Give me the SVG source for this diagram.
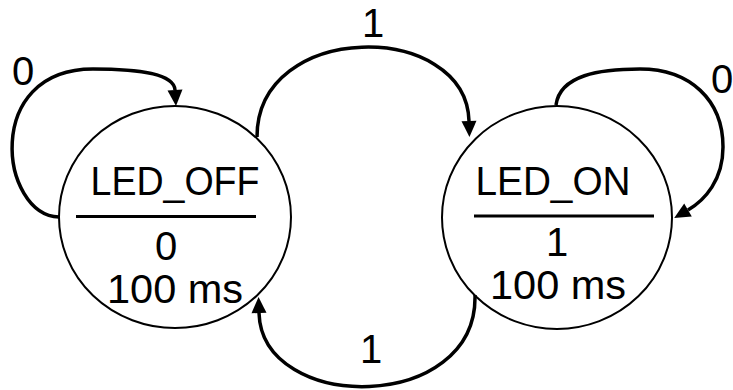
<svg xmlns="http://www.w3.org/2000/svg" width="733" height="390" viewBox="0 0 733 390">
<style>
.state{fill:#fff;stroke:#000;stroke-width:2}
.div{stroke:#000;stroke-width:3}
.t{font-family:"Liberation Sans",Arial,sans-serif;font-size:40px;fill:#000;text-anchor:middle}
.edge{fill:none;stroke:#000;stroke-width:3.5;marker-end:url(#arr)}
</style>
<defs>
<marker id="arr" markerUnits="userSpaceOnUse" markerWidth="17" markerHeight="16" refX="0" refY="7.5" orient="auto" overflow="visible">
<path d="M0,0 L16,7.5 L0,15 z" fill="#000"/>
</marker>
</defs>
<g id="node-led-off">
<ellipse class="state" cx="175" cy="217" rx="116" ry="111"/>
<text class="t" x="175" y="195" textLength="169" lengthAdjust="spacingAndGlyphs">LED_OFF</text>
<line class="div" x1="76" y1="216.5" x2="256" y2="216.5"/>
<text class="t" x="166" y="260">0</text>
<text class="t" x="175" y="303" textLength="136" lengthAdjust="spacingAndGlyphs">100 ms</text>
</g>
<g id="node-led-on">
<ellipse class="state" cx="557" cy="217.5" rx="115" ry="111.5"/>
<text class="t" x="553" y="195" textLength="155" lengthAdjust="spacingAndGlyphs">LED_ON</text>
<line class="div" x1="474" y1="216" x2="654" y2="216"/>
<text class="t" x="557" y="256">1</text>
<text class="t" x="558" y="299" textLength="136" lengthAdjust="spacingAndGlyphs">100 ms</text>
</g>
<g id="connectors">
<path class="edge" d="M257,137 C257,20 466,20 469,121"/>
<path class="edge" d="M475,295 C478,414 262,414 259,313"/>
<path class="edge" d="M59,217 C0,215 -18,69 93,69 C140,69 174,74 175,90"/>
<path class="edge" d="M556,105 C560,75 600,69 640,69 C690,69 723,100 723,147 C723,180 705,200 688,210"/>
<text class="t" x="373" y="37">1</text>
<text class="t" x="371" y="363">1</text>
<text class="t" x="23" y="85">0</text>
<text class="t" x="722" y="93">0</text>
</g>
</svg>
